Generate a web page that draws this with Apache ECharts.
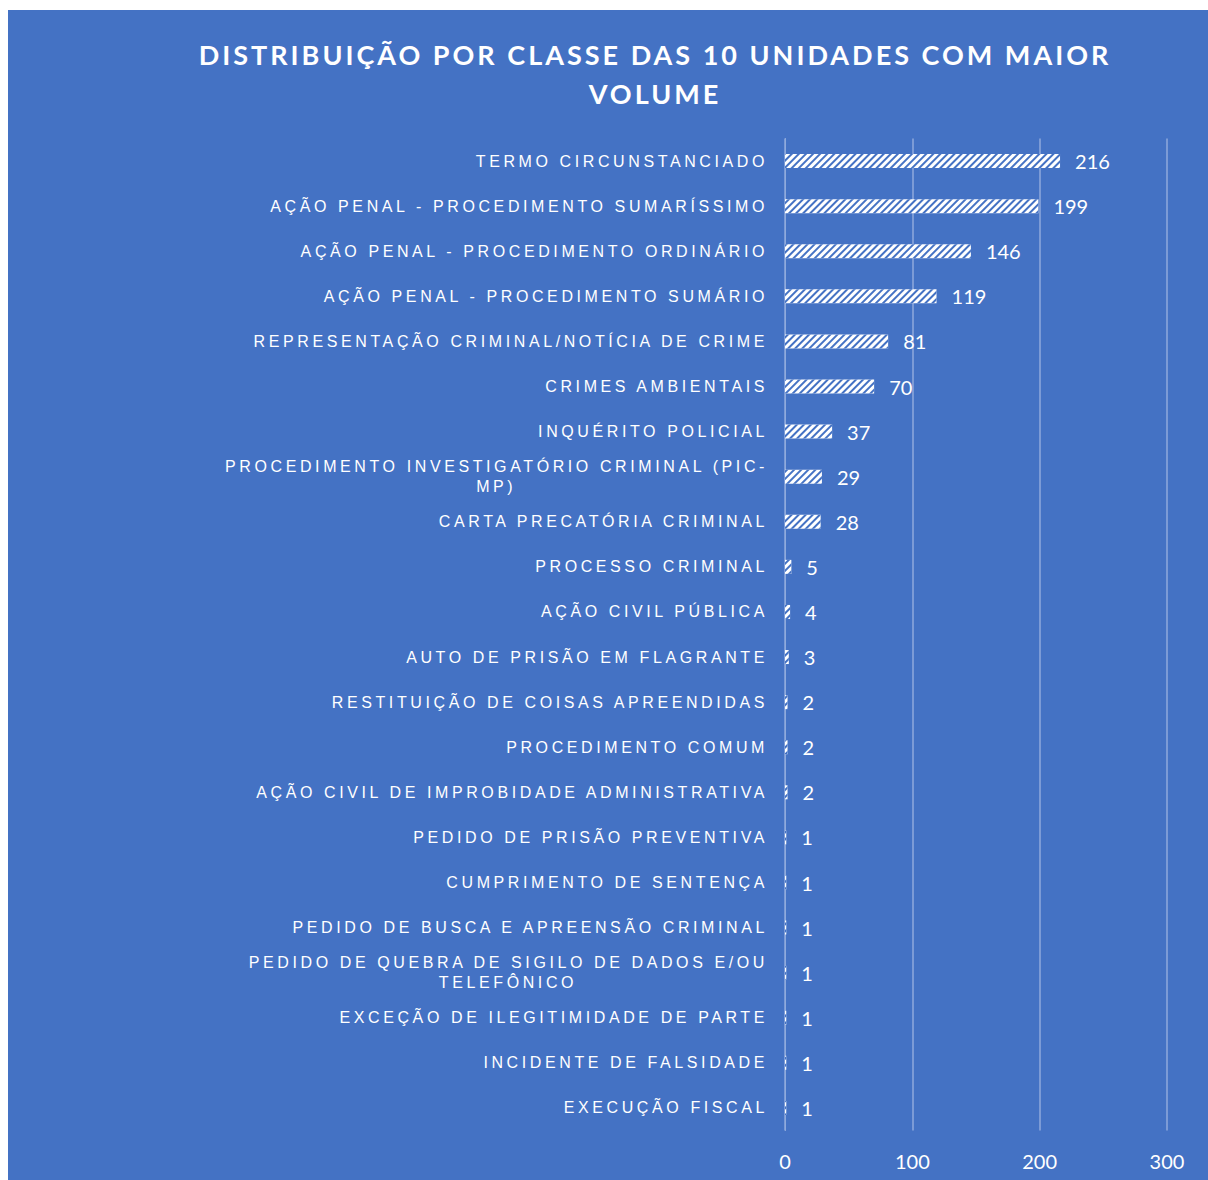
<!DOCTYPE html>
<html>
<head>
<meta charset="utf-8">
<script src="https://cdn.jsdelivr.net/npm/echarts@6/dist/echarts.min.js"></script>
<style>
html, body { margin: 0; padding: 0; background: #ffffff; }
#chart { position: absolute; left: 8px; top: 10px; width: 1200px; height: 1170px; background: #4472C4; }
#chart text[style*="Liberation"] { letter-spacing: 3.6px; }
#chart text[style*="bold"] { letter-spacing: 3px; }
</style>
</head>
<body>
<div id="chart"></div>
<script>
const titleText = 'DISTRIBUIÇÃO POR CLASSE DAS 10 UNIDADES COM MAIOR\nVOLUME';
const categories = [
  'TERMO CIRCUNSTANCIADO',
  'AÇÃO PENAL - PROCEDIMENTO SUMARÍSSIMO',
  'AÇÃO PENAL - PROCEDIMENTO ORDINÁRIO',
  'AÇÃO PENAL - PROCEDIMENTO SUMÁRIO',
  'REPRESENTAÇÃO CRIMINAL/NOTÍCIA DE CRIME',
  'CRIMES AMBIENTAIS',
  'INQUÉRITO POLICIAL',
  'PROCEDIMENTO INVESTIGATÓRIO CRIMINAL (PIC-\nMP)',
  'CARTA PRECATÓRIA CRIMINAL',
  'PROCESSO CRIMINAL',
  'AÇÃO CIVIL PÚBLICA',
  'AUTO DE PRISÃO EM FLAGRANTE',
  'RESTITUIÇÃO DE COISAS APREENDIDAS',
  'PROCEDIMENTO COMUM',
  'AÇÃO CIVIL DE IMPROBIDADE ADMINISTRATIVA',
  'PEDIDO DE PRISÃO PREVENTIVA',
  'CUMPRIMENTO DE SENTENÇA',
  'PEDIDO DE BUSCA E APREENSÃO CRIMINAL',
  'PEDIDO DE QUEBRA DE SIGILO DE DADOS E/OU\nTELEFÔNICO',
  'EXCEÇÃO DE ILEGITIMIDADE DE PARTE',
  'INCIDENTE DE FALSIDADE',
  'EXECUÇÃO FISCAL'
];
const values = [216, 199, 146, 119, 81, 70, 37, 29, 28, 5, 4, 3, 2, 2, 2, 1, 1, 1, 1, 1, 1, 1];
const xTicks = { min: 0, max: 300, interval: 100 };

const LABEL_FONT = 'Liberation Sans';
const LABEL_SIZE = 16;
const SPACING = 3.6;
const blue = '#4472C4';

const mctx = document.createElement('canvas').getContext('2d');
mctx.font = LABEL_SIZE + 'px "' + LABEL_FONT + '"';
function spacedWidth(s) { return mctx.measureText(s).width + s.length * SPACING; }

const chart = echarts.init(document.getElementById('chart'), null, { renderer: 'svg' });
chart.setOption({
  animation: false,
  backgroundColor: blue,
  title: {
    text: titleText,
    left: 647,
    top: 25,
    padding: 0,
    textAlign: 'center',
    textStyle: { color: '#ffffff', fontSize: 27, fontWeight: 'bold', fontFamily: 'Lato', lineHeight: 39 }
  },
  grid: { left: 777, right: 41, top: 128.5, height: 992, containLabel: false, outerBoundsMode: 'none' },
  xAxis: {
    type: 'value',
    min: xTicks.min, max: xTicks.max, interval: xTicks.interval,
    axisLine: { show: false },
    axisTick: { show: false },
    axisLabel: { color: '#ffffff', fontSize: 20, fontFamily: 'Lato', margin: 20 },
    splitLine: { show: true, lineStyle: { color: '#8FAADC', width: 1.5 } }
  },
  yAxis: {
    type: 'category',
    inverse: true,
    data: categories,
    axisLine: { show: true, lineStyle: { color: '#8FAADC', width: 1 } },
    axisTick: { show: false },
    axisLabel: {
      color: '#ffffff',
      fontSize: LABEL_SIZE,
      fontFamily: LABEL_FONT,
      margin: 17,
      formatter: function (v) {
        if (v.indexOf('\n') < 0) return v;
        const parts = v.split('\n');
        return '{a|' + parts[0] + '}\n{b' + (parts[0].length > 41 ? 'p' : 'q') + '|' + parts[1] + '}';
      },
      rich: {
        a: { color: '#ffffff', fontSize: LABEL_SIZE, fontFamily: LABEL_FONT, align: 'right', lineHeight: 20 },
        bp: { color: '#ffffff', fontSize: LABEL_SIZE, fontFamily: LABEL_FONT, align: 'center', lineHeight: 20,
              width: spacedWidth('PROCEDIMENTO INVESTIGATÓRIO CRIMINAL (PIC-') },
        bq: { color: '#ffffff', fontSize: LABEL_SIZE, fontFamily: LABEL_FONT, align: 'center', lineHeight: 20,
              width: spacedWidth('PEDIDO DE QUEBRA DE SIGILO DE DADOS E/OU') }
      }
    }
  },
  series: [{
    type: 'bar',
    data: values,
    barWidth: 14,
    itemStyle: {
      color: '#ffffff',
      decal: {
        symbol: 'rect', symbolSize: 1,
        dashArrayX: [1, 0], dashArrayY: [1.5, 2.5],
        rotation: -Math.PI / 4,
        color: blue
      }
    },
    label: { show: true, position: 'right', distance: 15, color: '#ffffff', fontSize: 20, fontFamily: 'Lato' }
  }]
});
</script>
</body>
</html>
